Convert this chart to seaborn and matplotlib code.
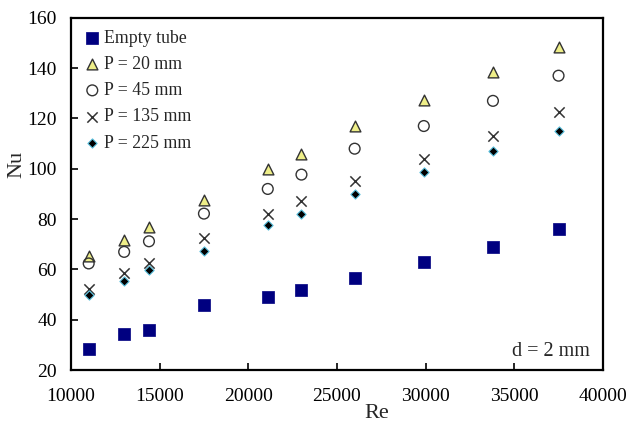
import matplotlib
matplotlib.use("Agg")
import matplotlib.pyplot as plt
import seaborn as sns
import pandas as pd

re_vals = [11000, 13000, 14400, 17500, 21100, 23000, 26000, 29900, 33800, 37500]
nu_empty = [28.5, 34.5, 36, 46, 49.2, 52, 56.8, 62.8, 68.8, 76]
nu_p20 = [65.3, 71.6, 77, 87.8, 100, 106, 117, 127.2, 138.5, 148.5]
nu_p45 = [62.4, 67, 71.2, 82.2, 92, 97.7, 108, 117, 127, 137]
nu_p135 = [52.4, 58.8, 62.4, 72.4, 82.2, 87.1, 95, 104, 113, 122.5]
nu_p225 = [50, 55.6, 59.6, 67.2, 77.6, 82, 90, 98.8, 107, 115.2]
labels = ["Empty tube", "P = 20 mm", "P = 45 mm", "P = 135 mm", "P = 225 mm"]

sns.set_style("white")
plt.rcParams['font.family'] = ['Liberation Serif', 'DejaVu Serif']

fig = plt.figure(figsize=(6.28, 4.24), dpi=100)
ax = fig.add_axes([0.113, 0.127, 0.847, 0.831])

styles = [
    dict(marker="s", s=85, color="#000080", edgecolor="#000080", linewidth=0.5),
    dict(marker="^", s=60, color="#eeee88", edgecolor="#333333", linewidth=1.0),
    dict(marker="o", s=60, facecolor="none", edgecolor="#333333", linewidth=1.0),
    dict(marker="x", s=55, color="#333333", linewidth=1.1),
    dict(marker="D", s=22, color="#000000", edgecolor="#5bc0de", linewidth=0.8),
]
series = [nu_empty, nu_p20, nu_p45, nu_p135, nu_p225]
for lab, ys, st in zip(labels, series, styles):
    df = pd.DataFrame({"Re": re_vals, "Nu": ys})
    sns.scatterplot(data=df, x="Re", y="Nu", ax=ax, label=lab, **st)

ax.set_xlim(10000, 40000)
ax.set_ylim(20, 160)
ax.set_xticks(range(10000, 40001, 5000))
ax.set_yticks(range(20, 161, 20))
ax.tick_params(direction="in", length=5, width=1.2, labelsize=14, colors="black",
               bottom=True, left=True, top=False, right=False)
ax.tick_params(axis="x", pad=13)
ax.tick_params(axis="y", pad=10)
for sp in ax.spines.values():
    sp.set_visible(True)
    sp.set_color("black")
    sp.set_linewidth(1.6)
ax.set_xlabel("Re", fontsize=16)
ax.set_ylabel("Nu", fontsize=16)
ax.xaxis.set_label_coords(0.575, -0.095)
ax.yaxis.set_label_coords(-0.083, 0.585)

leg = ax.legend(loc="upper left", bbox_to_anchor=(0.0, 0.997), frameon=False,
                fontsize=12.8, labelspacing=0.52, handletextpad=0.05, handlelength=1.2,
                borderaxespad=0.2)

ax.text(0.975, 0.025, "d = 2 mm", transform=ax.transAxes, ha="right", va="bottom", fontsize=14.5)

fig.savefig("out.png", dpi=100)
